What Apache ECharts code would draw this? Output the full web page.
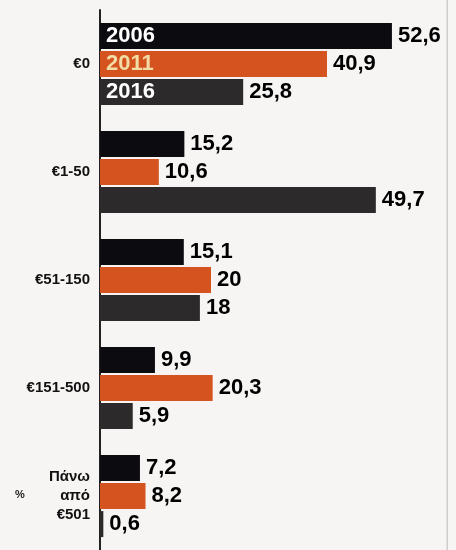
<!DOCTYPE html>
<html>
<head>
<meta charset="utf-8">
<script src="https://cdn.jsdelivr.net/npm/echarts@6/dist/echarts.min.js"></script>
<style>
html,body{margin:0;padding:0;background:#f7f5f4;}
#c{width:456px;height:550px;}
</style>
</head>
<body>
<div id="c"></div>
<script>
const categories = ['€0', '€1-50', '€51-150', '€151-500', 'Πάνω\nαπό\n€501'];
const seriesNames = ['2006', '2011', '2016'];
const v2006 = [52.6, 15.2, 15.1, 9.9, 7.2];
const v2011 = [40.9, 10.6, 20, 20.3, 8.2];
const v2016 = [25.8, 49.7, 18, 5.9, 0.6];
const seriesValues = [v2006, v2011, v2016];
const colors = ['#0c0b10', '#d5531f', '#2c2a2a'];
const yearLabelColors = ['#ffffff', '#f2dca6', '#ffffff'];
const FONT = "'Liberation Sans', Arial, sans-serif";

const chart = echarts.init(document.getElementById('c'));
const fmt = v => String(v).replace('.', ',');

const series = seriesNames.map((name, i) => ({
  name: name,
  type: 'bar',
  data: seriesValues[i],
  barWidth: 26,
  barGap: '8%',
  itemStyle: { color: colors[i] },
  label: {
    show: true,
    position: 'right',
    distance: 6,
    formatter: p => fmt(p.value),
    color: '#000',
    fontFamily: FONT,
    fontWeight: 'bold',
    fontSize: 22
  },
  markPoint: {
    symbol: 'rect',
    symbolSize: 0,
    silent: true,
    data: [{ coord: [0, categories[0]], value: name }],
    label: {
      show: true,
      position: 'right',
      distance: 6,
      formatter: name,
      color: yearLabelColors[i],
      fontFamily: FONT,
      fontWeight: 'bold',
      fontSize: 22
    }
  }
}));

chart.setOption({
  backgroundColor: '#f7f5f4',
  animation: false,
  title: {
    text: '%',
    left: 10,
    top: 484,
    textStyle: { fontFamily: FONT, fontWeight: 'bold', fontSize: 11, color: '#222' }
  },
  graphic: [{
    type: 'rect', right: 8, top: 0,
    shape: { width: 1.5, height: 550 },
    style: { fill: '#cfcccc' }
  }],
  grid: { left: 100, top: 10, width: 333, height: 542, containLabel: false },
  xAxis: {
    type: 'value', min: 0, max: 60,
    show: false
  },
  yAxis: {
    type: 'category',
    data: categories,
    inverse: true,
    axisLine: { show: true, lineStyle: { color: '#222', width: 2 } },
    axisTick: { show: false },
    axisLabel: {
      margin: 10,
      color: '#111',
      fontFamily: FONT,
      fontWeight: 'bold',
      fontSize: 15,
      lineHeight: 19,
      align: 'right'
    }
  },
  series: series
});
</script>
</body>
</html>
